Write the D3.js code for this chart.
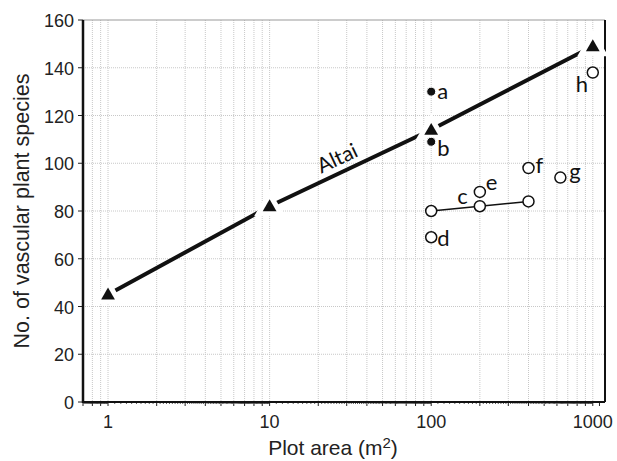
<!DOCTYPE html>
<html>
<head>
<meta charset="utf-8">
<script src="https://cdn.jsdelivr.net/npm/d3@7"></script>
<style>
  body { margin: 0; background: #fff; }
  svg { display: block; }
</style>
</head>
<body>
<div id="chart"></div>
<script>
// Altai series (triangles joined by a thick line)
var altaiArea = [1, 10, 100, 1000];
var altaiSpecies = [45, 82, 114, 149];

// filled dots
var dotLabels = ["a", "b"];
var dotArea = [100, 100];
var dotSpecies = [130, 109];

// open circles joined by a thin line (c)
var lineCArea = [100, 200, 400];
var lineCSpecies = [80, 82, 84];

// single open circles
var openLabels = ["d", "e", "f", "g", "h"];
var openArea = [100, 200, 400, 630, 1000];
var openSpecies = [69, 88, 98, 94, 138];

var yTicks = [0, 20, 40, 60, 80, 100, 120, 140, 160];
var xTicks = [1, 10, 100, 1000];

// label offsets in px (dx, dy to baseline)
var dotOffsets = [[6, 7], [6, 14]];
var openOffsets = [[6, 9], [6, -2], [7, 5], [9, 1], [-17, 19]];

var width = 617, height = 461;
var margin = {top: 20, right: 12, bottom: 59, left: 83};

var svg = d3.select("#chart").append("svg")
    .attr("width", width)
    .attr("height", height);

var x = d3.scaleLog()
    .domain([0.7, 1190])
    .range([margin.left, width - margin.right]);

var y = d3.scaleLinear()
    .domain([0, 160])
    .range([height - margin.bottom, margin.top]);

var x0 = margin.left, x1 = width - margin.right;
var y0 = height - margin.bottom, y1 = margin.top;
var axisFont = "Liberation Sans, Arial, sans-serif";
var labFont = "Lato, Open Sans, sans-serif";

// gridlines (dotted)
var minor = [];
[0.1, 1, 10, 100].forEach(function(dec){
  for (var k = 1; k <= 9; k++){
    var v = k * dec;
    if (v > 0.7 && v <= 1000) minor.push(v);
  }
});
minor.push(1000);

var grid = svg.append("g");
grid.selectAll("line.vg").data(minor).enter().append("line")
    .attr("x1", function(d){ return x(d); })
    .attr("x2", function(d){ return x(d); })
    .attr("y1", y1).attr("y2", y0)
    .attr("stroke", "#c8c8c8")
    .attr("stroke-width", 1)
    .attr("stroke-dasharray", "1,1");
grid.selectAll("line.hg").data(yTicks.slice(1, -1)).enter().append("line")
    .attr("x1", x0).attr("x2", x1)
    .attr("y1", function(d){ return y(d); })
    .attr("y2", function(d){ return y(d); })
    .attr("stroke", "#c8c8c8")
    .attr("stroke-width", 1)
    .attr("stroke-dasharray", "1,1");

// frame
svg.append("line").attr("x1", x0).attr("x2", x1).attr("y1", y1).attr("y2", y1)
    .attr("stroke", "#999").attr("stroke-width", 1);
svg.append("line").attr("x1", x1).attr("x2", x1).attr("y1", y1).attr("y2", y0)
    .attr("stroke", "#111").attr("stroke-width", 2);

// x axis: sub ticks, minor ticks, major ticks
var sub = [];
[0.1, 1, 10, 100].forEach(function(dec){
  for (var k = 11; k <= 99; k++){
    if (k % 10 == 0) continue;
    var v = k * dec / 10;
    if (v > 0.7 && v < 1190) sub.push(v);
  }
});
var xa = svg.append("g");
xa.selectAll("line.sub").data(sub).enter().append("line")
    .attr("x1", function(d){ return x(d); })
    .attr("x2", function(d){ return x(d); })
    .attr("y1", y0).attr("y2", y0 + 2)
    .attr("stroke", "#333").attr("stroke-width", 0.8);
xa.selectAll("line.min").data(minor.concat([1100])).enter().append("line")
    .attr("x1", function(d){ return x(d); })
    .attr("x2", function(d){ return x(d); })
    .attr("y1", y0).attr("y2", y0 + 4)
    .attr("stroke", "#222").attr("stroke-width", 1);
xa.append("line").attr("x1", x0).attr("x2", x1).attr("y1", y0).attr("y2", y0)
    .attr("stroke", "#111").attr("stroke-width", 2);
xa.selectAll("text").data(xTicks).enter().append("text")
    .attr("x", function(d){ return x(d); })
    .attr("y", y0 + 26)
    .attr("text-anchor", "middle")
    .attr("font-family", axisFont)
    .attr("font-size", 18)
    .attr("fill", "#222")
    .text(function(d){ return d; });

// y axis
var ya = svg.append("g");
ya.selectAll("line").data(yTicks).enter().append("line")
    .attr("x1", x0 - 5).attr("x2", x0)
    .attr("y1", function(d){ return y(d); })
    .attr("y2", function(d){ return y(d); })
    .attr("stroke", "#222").attr("stroke-width", 1);
ya.append("line").attr("x1", x0).attr("x2", x0).attr("y1", y1).attr("y2", y0 + 1)
    .attr("stroke", "#111").attr("stroke-width", 2.5);
ya.selectAll("text").data(yTicks).enter().append("text")
    .attr("x", x0 - 9)
    .attr("y", function(d){ return y(d) + 7; })
    .attr("text-anchor", "end")
    .attr("font-family", axisFont)
    .attr("font-size", 18)
    .attr("fill", "#222")
    .text(function(d){ return d; });

// axis titles
var xt = svg.append("text")
    .attr("x", 333)
    .attr("y", 455)
    .attr("text-anchor", "middle")
    .attr("font-family", axisFont)
    .attr("font-size", 21)
    .attr("fill", "#222");
xt.append("tspan").text("Plot area (m");
xt.append("tspan").attr("font-size", 15).attr("dy", -7).text("2");
xt.append("tspan").attr("dy", 7).text(")");

svg.append("text")
    .attr("transform", "translate(29," + ((y0 + y1) / 2) + ") rotate(-90)")
    .attr("text-anchor", "middle")
    .attr("font-family", axisFont)
    .attr("font-size", 21.5)
    .attr("fill", "#222")
    .text("No. of vascular plant species");

// Altai line
var altai = altaiArea.map(function(a, i){ return [a, altaiSpecies[i]]; });
var line = d3.line()
    .x(function(d){ return x(d[0]); })
    .y(function(d){ return y(d[1]); });
svg.append("path")
    .datum(altai)
    .attr("d", line)
    .attr("fill", "none")
    .attr("stroke", "#111")
    .attr("stroke-width", 4);

var tri = d3.symbol().type(d3.symbolTriangle).size(82);
svg.selectAll("path.halo").data(altai).enter().append("path")
    .attr("transform", function(d){ return "translate(" + x(d[0]) + "," + (y(d[1]) + 1) + ")"; })
    .attr("d", tri)
    .attr("fill", "#fff")
    .attr("stroke", "#fff")
    .attr("stroke-width", 10);
svg.selectAll("path.tri").data(altai).enter().append("path")
    .attr("transform", function(d){ return "translate(" + x(d[0]) + "," + (y(d[1]) + 1) + ")"; })
    .attr("d", tri)
    .attr("fill", "#111");

// Altai label along the line
var lx = x(Math.pow(10, 1.45));
var ly = y(82 + (114 - 82) * 0.45);
var ang = Math.atan2(y(114) - y(82), x(100) - x(10)) * 180 / Math.PI;
svg.append("text")
    .attr("transform", "translate(" + (lx - 2) + "," + (ly - 7) + ") rotate(" + ang + ")")
    .attr("text-anchor", "middle")
    .attr("font-family", labFont)
    .attr("font-size", 21)
    .attr("fill", "#111")
    .text("Altai");

// filled dots
svg.selectAll("circle.dot").data(dotArea).enter().append("circle")
    .attr("cx", function(d){ return x(d); })
    .attr("cy", function(d, i){ return y(dotSpecies[i]); })
    .attr("r", 4.5)
    .attr("fill", "#111")
    .attr("stroke", "#fff")
    .attr("stroke-width", 1);

// c line
var cdata = lineCArea.map(function(a, i){ return [a, lineCSpecies[i]]; });
svg.append("path")
    .datum(cdata)
    .attr("d", line)
    .attr("fill", "none")
    .attr("stroke", "#111")
    .attr("stroke-width", 1.5);
var odata = cdata.concat(openArea.map(function(a, i){ return [a, openSpecies[i]]; }));
svg.selectAll("circle.open").data(odata).enter().append("circle")
    .attr("cx", function(d){ return x(d[0]); })
    .attr("cy", function(d){ return y(d[1]); })
    .attr("r", 5.5)
    .attr("fill", "#fff")
    .attr("stroke", "#111")
    .attr("stroke-width", 1.5);

// point labels
svg.selectAll("text.dl").data(dotLabels).enter().append("text")
    .attr("x", function(d, i){ return x(dotArea[i]) + dotOffsets[i][0]; })
    .attr("y", function(d, i){ return y(dotSpecies[i]) + dotOffsets[i][1]; })
    .attr("font-family", labFont)
    .attr("font-size", 22)
    .attr("fill", "#111")
    .text(function(d){ return d; });
svg.selectAll("text.ol").data(openLabels).enter().append("text")
    .attr("x", function(d, i){ return x(openArea[i]) + openOffsets[i][0]; })
    .attr("y", function(d, i){ return y(openSpecies[i]) + openOffsets[i][1]; })
    .attr("font-family", labFont)
    .attr("font-size", 22)
    .attr("fill", "#111")
    .text(function(d){ return d; });
svg.append("text")
    .attr("x", x(145))
    .attr("y", y(81) - 5)
    .attr("font-family", labFont)
    .attr("font-size", 22)
    .attr("fill", "#111")
    .text("c");
</script>
</body>
</html>
